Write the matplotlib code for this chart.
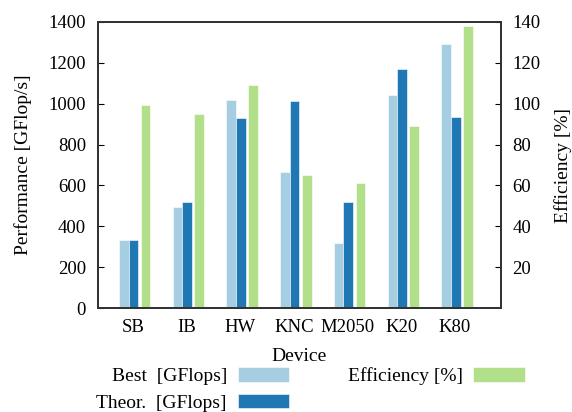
import numpy as np
import matplotlib
matplotlib.use('Agg')
import matplotlib.pyplot as plt

# data
devices = ['SB', 'IB', 'HW', 'KNC', 'M2050', 'K20', 'K80']
best = [332, 493, 1016, 664, 318, 1042, 1290]         # GFlop/s
theor = [333, 517, 930, 1013, 517, 1171, 935]         # GFlop/s
efficiency = [99.2, 94.9, 109.0, 65.2, 61.0, 88.9, 138.0]  # %

c_best = '#a6cee3'
c_theor = '#1f78b4'
c_eff = '#b2df8a'

plt.rcParams['font.family'] = ['Liberation Serif', 'DejaVu Serif']
fs = 13.5
fs_lab = 14

fig = plt.figure(figsize=(5.72, 4.12), dpi=100)
ax = fig.add_axes([0.171, 0.252, 0.705, 0.695])
ax2 = ax.twinx()

x = np.arange(len(devices))
w = 0.18
ax.bar(x - 0.165, best, w, color=c_best, edgecolor='white', linewidth=0.4, label='Best [GFlops]')
ax.bar(x + 0.015, theor, w, color=c_theor, edgecolor='white', linewidth=0.4, label='Theor. [GFlops]')
ax2.bar(x + 0.24, efficiency, w, color=c_eff, edgecolor='white', linewidth=0.4, label='Efficiency [%]')

ax.set_xlim(-0.65, 6.86)
ax.set_ylim(0, 1400)
ax2.set_ylim(0, 140)
ax.set_yticks(range(0, 1401, 200))
ax2.set_yticks(range(20, 141, 20))
ax.set_xticks(x)
ax.set_xticklabels(devices)

ax.tick_params(axis='y', direction='in', length=4, labelsize=fs, pad=8.5)
ax.tick_params(axis='x', length=0, labelsize=fs, pad=7.5)
ax2.tick_params(axis='y', direction='in', length=4, labelsize=fs, pad=8)

for a in (ax, ax2):
    for s in a.spines.values():
        s.set_color('#333333')
        s.set_linewidth(1.4)

ax.set_xlabel('Device', fontsize=fs_lab, labelpad=9)
ax.set_ylabel('Performance [GFlop/s]', fontsize=fs_lab, labelpad=12)
ax2.set_ylabel('Efficiency [%]', fontsize=fs_lab, labelpad=10)

handles = ax.get_legend_handles_labels()[0] + ax2.get_legend_handles_labels()[0]
labels = ['Best  [GFlops]', 'Theor.  [GFlops]', 'Efficiency [%]']
fig.legend(handles, labels, ncol=2, markerfirst=False, frameon=False,
           loc='upper center', bbox_to_anchor=(0.543, 0.132), fontsize=fs_lab,
           borderpad=0, handlelength=2.65, handleheight=0.75,
           handletextpad=0.55, columnspacing=3.0, labelspacing=0.45)

fig.savefig('out.png', dpi=100)
